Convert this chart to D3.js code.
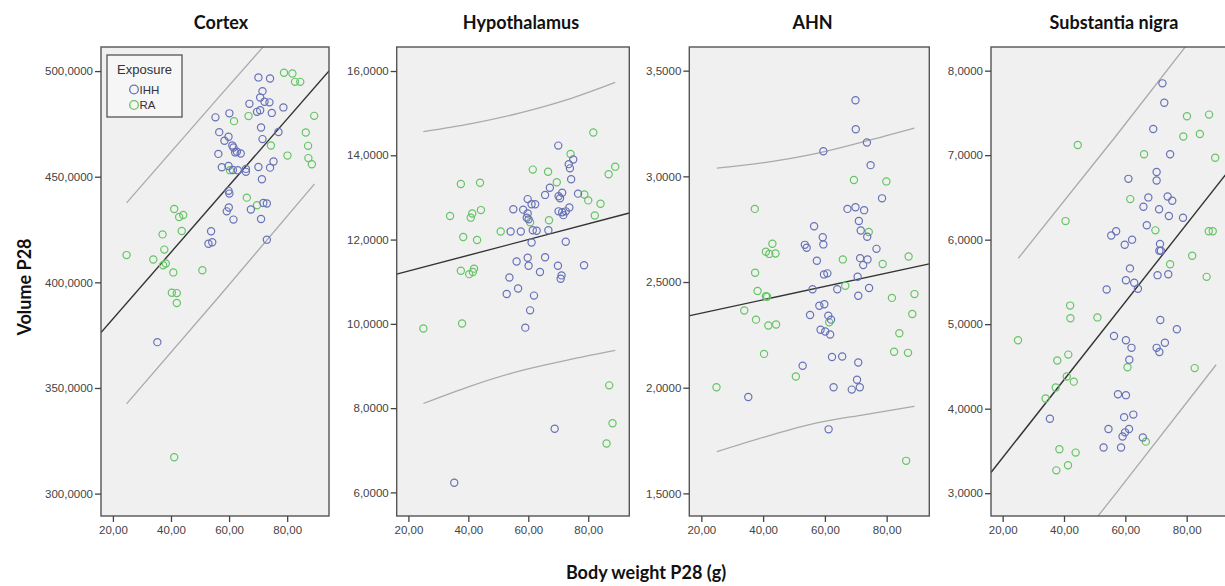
<!DOCTYPE html>
<html>
<head>
<meta charset="utf-8">
<script src="https://cdn.jsdelivr.net/npm/d3@7"></script>
<style>
  body { margin: 0; background: #fff; }
  .tick text { font-family: "Liberation Sans", Arial, sans-serif; font-size: 11.5px; fill: #444; }
  .tick line { stroke: #444; stroke-width: 1.3; }
  .title { font-family: Lato, "Open Sans", sans-serif; font-weight: bold; font-size: 18px; fill: #111; }
</style>
</head>
<body>
<svg id="chart" width="1225" height="586"></svg>
<script>
const svg = d3.select("#chart");

// tick values
const xTicks = [20, 40, 60, 80];
const cortexTicks = [300, 350, 400, 450, 500];
const hypoTicks = [6, 8, 10, 12, 14, 16];
const ahnTicks = [1.5, 2, 2.5, 3, 3.5];
const snTicks = [3, 4, 5, 6, 7, 8];

// Cortex
const cortexIHH = [[70.1,497.0],[74.1,496.5],[71.5,490.5],[70.7,487.5],[72.2,485.5],[73.9,485.2],[67.0,484.5],[69.6,480.7],[70.7,481.5],[74.7,480.2],[78.7,482.8],[55.3,478.1],[60.1,480.0],[71.0,473.3],[56.6,471.1],[77.0,471.2],[59.8,468.9],[58.4,467.0],[71.5,467.8],[61.1,464.8],[61.5,463.8],[62.7,461.8],[64.0,461.0],[56.3,460.8],[62.1,461.5],[75.3,457.2],[57.5,454.5],[59.8,455.1],[61.3,453.2],[63.0,453.1],[65.8,453.7],[65.8,452.3],[70.1,454.6],[74.1,454.3],[71.3,448.8],[59.8,443.3],[60.1,442.0],[71.8,437.6],[73.0,437.3],[59.9,435.4],[59.2,433.6],[67.5,434.5],[61.5,429.7],[71.0,430.0],[53.8,424.2],[52.9,418.3],[54.2,419.0],[73.0,420.2],[35.3,371.7]];
const cortexRA = [[78.9,499.2],[81.8,498.9],[82.7,494.9],[84.5,494.9],[89.3,478.8],[61.7,476.3],[66.7,478.7],[86.4,470.9],[87.2,464.6],[74.4,464.8],[80.1,460.0],[87.3,458.8],[88.5,455.9],[60.3,453.1],[66.1,440.1],[69.6,436.5],[41.1,434.7],[42.8,430.9],[44.2,431.9],[37.1,422.7],[43.7,424.3],[37.7,415.5],[24.7,412.9],[33.9,410.8],[38.2,408.9],[37.3,408.1],[40.8,404.7],[50.8,405.7],[40.3,395.1],[42.0,394.9],[42.0,390.2],[41.1,317.2]];
const cortexFit = [[15.9,376.2],[94.4,500.1]];
const cortexUpper = [[24.7,437.6],[57,488.5],[89.4,539]];
const cortexLower = [[24.7,342.5],[57,394],[89.4,446.6]];

// Hypothalamus
const hypoIHH = [[70.0,14.23],[73.5,13.79],[75.0,13.90],[73.9,13.69],[74.3,13.43],[67.2,13.23],[65.6,13.06],[70.1,13.03],[71.3,13.11],[70.6,12.98],[76.6,13.09],[59.8,12.96],[61.1,12.84],[62.3,12.84],[55.0,12.72],[58.3,12.71],[59.8,12.62],[59.5,12.52],[60.1,12.48],[70.1,12.67],[71.3,12.65],[72.5,12.67],[73.7,12.76],[71.7,12.58],[54.1,12.19],[57.5,12.19],[61.5,12.22],[62.8,12.21],[66.7,12.22],[61.1,11.93],[72.5,11.95],[59.8,11.57],[56.1,11.48],[60.1,11.38],[65.6,11.58],[69.9,11.38],[78.6,11.39],[63.9,11.23],[71.1,11.15],[70.8,11.07],[53.7,11.10],[56.6,10.84],[52.8,10.71],[61.9,10.67],[60.6,10.32],[59.0,9.91],[68.8,7.51],[35.3,6.23]];
const hypoRA = [[81.7,14.54],[74.1,14.03],[61.5,13.66],[66.6,13.61],[69.5,13.36],[86.8,13.55],[89.0,13.73],[37.5,13.32],[43.9,13.35],[78.7,13.07],[80.0,12.93],[84.1,12.85],[82.2,12.57],[33.9,12.56],[41.3,12.62],[40.8,12.52],[44.2,12.70],[66.9,12.46],[60.6,12.41],[50.8,12.19],[38.3,12.06],[42.9,11.99],[37.5,11.26],[40.3,11.18],[41.5,11.23],[41.9,11.31],[25.0,9.89],[37.9,10.01],[87.0,8.54],[88.1,7.64],[86.1,7.16]];
const hypoFit = [[16.1,11.18],[93.7,12.63]];
const hypoUpper = [[25,14.56],[41,14.75],[57,15.0],[73,15.32],[89,15.73]];
const hypoLower = [[25,8.11],[41,8.53],[57,8.88],[73,9.14],[89,9.37]];

// AHN
const ahnIHH = [[69.9,3.360],[70.0,3.223],[73.6,3.160],[59.5,3.119],[74.8,3.053],[78.5,2.896],[67.3,2.846],[69.9,2.854],[72.7,2.840],[71.0,2.789],[71.6,2.744],[73.7,2.714],[56.5,2.764],[59.3,2.712],[59.5,2.678],[53.5,2.676],[54.1,2.662],[76.7,2.657],[57.4,2.601],[71.4,2.613],[73.8,2.607],[72.4,2.580],[59.7,2.536],[60.8,2.541],[70.6,2.525],[56.0,2.466],[64.0,2.466],[74.3,2.472],[70.8,2.435],[58.2,2.388],[59.8,2.395],[55.2,2.344],[61.1,2.341],[62.0,2.322],[58.6,2.274],[60.1,2.266],[61.7,2.252],[62.3,2.145],[65.6,2.148],[70.8,2.119],[52.8,2.104],[70.4,2.038],[62.8,2.002],[68.7,1.991],[71.3,2.002],[35.2,1.956],[61.2,1.803]];
const ahnRA = [[69.4,2.983],[79.9,2.976],[37.3,2.846],[43.0,2.681],[40.9,2.643],[42.0,2.633],[44.0,2.635],[65.8,2.607],[74.2,2.737],[78.7,2.585],[87.1,2.621],[37.4,2.544],[66.6,2.482],[38.2,2.458],[40.9,2.433],[41.3,2.430],[81.7,2.425],[89.0,2.443],[33.9,2.365],[37.7,2.322],[41.7,2.294],[44.2,2.299],[61.4,2.310],[88.3,2.349],[84.1,2.258],[40.3,2.160],[82.4,2.170],[86.9,2.165],[50.6,2.053],[24.9,2.002],[86.3,1.654]];
const ahnFit = [[16.3,2.341],[93.8,2.586]];
const ahnUpper = [[25,3.039],[41,3.066],[57,3.107],[73,3.165],[89,3.228]];
const ahnLower = [[25,1.697],[41,1.769],[57,1.832],[73,1.873],[89,1.912]];

// Substantia nigra
const snIHH = [[72.1,7.85],[72.7,7.62],[69.1,7.31],[74.6,7.01],[61.0,6.72],[70.2,6.80],[70.2,6.70],[67.5,6.50],[73.8,6.51],[75.3,6.46],[65.9,6.39],[71.0,6.36],[74.2,6.28],[78.8,6.26],[67.0,6.17],[55.4,6.05],[57.0,6.10],[62.2,6.00],[59.8,5.94],[71.3,5.95],[71.1,5.87],[71.6,5.87],[61.5,5.66],[60.2,5.52],[62.9,5.49],[64.1,5.42],[53.9,5.41],[70.5,5.58],[74.0,5.59],[71.4,5.05],[76.8,4.94],[56.3,4.86],[60.2,4.81],[62.0,4.72],[70.2,4.72],[71.1,4.67],[72.9,4.78],[61.3,4.58],[57.6,4.17],[60.2,4.16],[35.4,3.88],[59.6,3.90],[62.6,3.93],[54.5,3.76],[61.2,3.76],[59.9,3.72],[59.1,3.67],[65.7,3.66],[52.9,3.54],[58.6,3.54]];
const snRA = [[44.5,7.12],[40.5,6.22],[66.1,7.01],[80.1,7.46],[87.3,7.48],[78.9,7.22],[84.3,7.25],[89.3,6.97],[61.6,6.48],[69.8,6.11],[87.2,6.10],[88.5,6.10],[81.8,5.81],[74.6,5.71],[86.5,5.56],[42.0,5.22],[42.1,5.07],[50.9,5.08],[25.0,4.81],[41.4,4.64],[37.8,4.57],[60.7,4.49],[82.6,4.48],[40.9,4.38],[43.2,4.32],[37.3,4.25],[34.0,4.12],[38.5,3.52],[43.8,3.48],[41.3,3.33],[37.5,3.27],[66.7,3.61]];
const snFit = [[16.2,3.245],[93.8,6.82]];
const snUpper = [[25.1,5.78],[57,7.23],[89.6,8.75]];
const snLower = [[25.1,1.54],[57,3.0],[89.6,4.52]];

const colIHH = "#6872b8";
const colRA = "#66c466";

const locale = d3.formatLocale({ decimal: ",", thousands: ".", grouping: [3], currency: ["", ""] });
const fmtY = locale.format(".4f");
const fmtX = locale.format(".2f");

const plotTop = 47, plotBottom = 516;

const panels = [
  { title: "Cortex", titleX: 221, left: 101, right: 329, xDom: [15.9, 94.4], yDom: [289.4, 511.4], yTicks: cortexTicks, ihh: cortexIHH, ra: cortexRA, fit: cortexFit, upper: cortexUpper, lower: cortexLower },
  { title: "Hypothalamus", titleX: 521, left: 396.7, right: 629.3, xDom: [16.1, 93.7], yDom: [5.44, 16.57], yTicks: hypoTicks, ihh: hypoIHH, ra: hypoRA, fit: hypoFit, upper: hypoUpper, lower: hypoLower },
  { title: "AHN", titleX: 812.5, left: 689.3, right: 929.3, xDom: [16.1, 93.8], yDom: [1.393, 3.612], yTicks: ahnTicks, ihh: ahnIHH, ra: ahnRA, fit: ahnFit, upper: ahnUpper, lower: ahnLower },
  { title: "Substantia nigra", titleX: 1114, left: 991, right: 1229, xDom: [16.2, 93.8], yDom: [2.73, 8.28], yTicks: snTicks, ihh: snIHH, ra: snRA, fit: snFit, upper: snUpper, lower: snLower }
];

panels.forEach((p, i) => {
  const x = d3.scaleLinear().domain(p.xDom).range([p.left, p.right]);
  const y = d3.scaleLinear().domain(p.yDom).range([plotBottom, plotTop]);
  const g = svg.append("g");

  g.append("clipPath").attr("id", "clip" + i)
    .append("rect").attr("x", p.left).attr("y", plotTop)
    .attr("width", p.right - p.left).attr("height", plotBottom - plotTop);

  g.append("rect")
    .attr("x", p.left).attr("y", plotTop)
    .attr("width", p.right - p.left).attr("height", plotBottom - plotTop)
    .attr("fill", "#f0f0f0");

  // fit line and prediction interval curves
  const line = d3.line().x(d => x(d[0])).y(d => y(d[1]));
  const curve = d3.line().x(d => x(d[0])).y(d => y(d[1])).curve(d3.curveMonotoneX);
  const lines = g.append("g").attr("clip-path", `url(#clip${i})`).attr("fill", "none");
  lines.append("path").attr("d", curve(p.upper)).attr("stroke", "#aaa").attr("stroke-width", 1.3);
  lines.append("path").attr("d", curve(p.lower)).attr("stroke", "#aaa").attr("stroke-width", 1.3);
  lines.append("path").attr("d", line(p.fit)).attr("stroke", "#333").attr("stroke-width", 1.4);

  const pts = g.append("g").attr("clip-path", `url(#clip${i})`).attr("fill", "none").attr("stroke-width", 1.2);
  pts.selectAll(".ra").data(p.ra).enter().append("circle")
    .attr("cx", d => x(d[0])).attr("cy", d => y(d[1])).attr("r", 3.6)
    .attr("stroke", colRA);
  pts.selectAll(".ihh").data(p.ihh).enter().append("circle")
    .attr("cx", d => x(d[0])).attr("cy", d => y(d[1])).attr("r", 3.6)
    .attr("stroke", colIHH);

  g.append("rect")
    .attr("x", p.left).attr("y", plotTop)
    .attr("width", p.right - p.left).attr("height", plotBottom - plotTop)
    .attr("fill", "none").attr("stroke", "#555").attr("stroke-width", 1.4);

  g.append("g").attr("transform", `translate(${p.left},0)`)
    .call(d3.axisLeft(y).tickValues(p.yTicks).tickFormat(fmtY).tickSize(6).tickPadding(2))
    .call(a => a.select(".domain").remove());

  g.append("g").attr("transform", `translate(0,${plotBottom})`)
    .call(d3.axisBottom(x).tickValues(xTicks).tickFormat(fmtX).tickSize(6).tickPadding(4))
    .call(a => a.select(".domain").remove());

  g.append("text").attr("class", "title")
    .attr("x", p.titleX).attr("y", 29).attr("text-anchor", "middle").text(p.title);
});

// legend (Cortex panel)
const lg = svg.append("g");
lg.append("rect").attr("x", 107).attr("y", 55).attr("width", 75).attr("height", 62)
  .attr("fill", "#f6f6f6").attr("stroke", "#555").attr("stroke-width", 1.3);
lg.append("text").attr("x", 144.5).attr("y", 74).attr("text-anchor", "middle")
  .attr("font-family", "Liberation Sans, Arial, sans-serif").attr("font-size", "13px").attr("fill", "#333")
  .text("Exposure");
[["IHH", colIHH, 89.5], ["RA", colRA, 105]].forEach(([name, c, cy]) => {
  lg.append("circle").attr("cx", 134).attr("cy", cy).attr("r", 4.3)
    .attr("fill", "none").attr("stroke", c).attr("stroke-width", 1.3);
  lg.append("text").attr("x", 139.5).attr("y", cy + 4)
    .attr("font-family", "Liberation Sans, Arial, sans-serif").attr("font-size", "11.5px").attr("fill", "#333")
    .text(name);
});

// axis titles
svg.append("text").attr("class", "title")
  .attr("transform", "translate(31,287) rotate(-90)").attr("text-anchor", "middle")
  .text("Volume P28");
svg.append("text").attr("class", "title")
  .attr("x", 646).attr("y", 579).attr("text-anchor", "middle")
  .text("Body weight P28 (g)");
</script>
</body>
</html>
